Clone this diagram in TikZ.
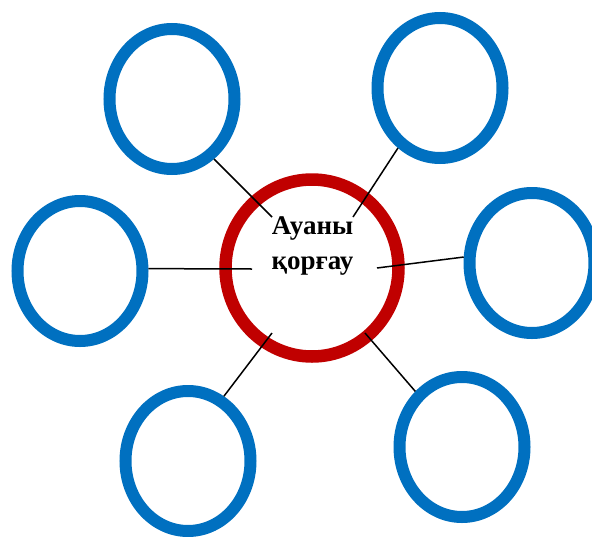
\documentclass[tikz,border=0pt]{standalone}
\usepackage{fontspec}
\setmainfont{Liberation Serif}
\definecolor{ringBlue}{RGB}{0, 112, 192}
\definecolor{ringRed}{RGB}{192, 0, 0}
\usetikzlibrary{shapes, positioning}

\begin{document}
\begin{tikzpicture}[
                x=1pt, y=-1pt,
                bubble/.style={ellipse, draw=ringBlue, line width=12pt, minimum width=125pt, minimum height=140pt, inner sep=0pt},
                hub/.style={ellipse, draw=ringRed, line width=12.5pt, minimum width=173pt, minimum height=177pt, inner sep=0pt},
                link/.style={draw=black, line width=1.5pt},
                title/.style={font=\bfseries\fontsize{27}{34.5}\selectfont, align=center, inner sep=0pt}
            ]
                \useasboundingbox (0,0) rectangle (592,536);
                % outer bubbles
                \node[bubble] (nw) at (172,99) {};
                \node[bubble] (ne) at (440,88) {};
                \node[bubble] (w)  at (80,271) {};
                \node[bubble] (e)  at (532,263) {};
                \node[bubble] (sw) at (188,461) {};
                \node[bubble] (se) at (462,447) {};
                % centre
                \node[hub] (air) at (312,268) {};
                \node[title] (label) at (312.5,246) {Ауаны\\қорғау};
                % inner ends of the links
                \coordinate (inNW) at (272,217);
                \coordinate (inNE) at (353,217);
                \coordinate (inW)  at (252,269);
                \coordinate (inE)  at (377,268);
                \coordinate (inSW) at (272,333);
                \coordinate (inSE) at (365,333);
                \draw[link] (nw.-55)  -- (inNW);
                \draw[link] (ne.-125) -- (inNE);
                \draw[link] (w.2)     -- (inW);
                \draw[link] (e.175)   -- (inE);
                \draw[link] (sw.61)   -- (inSW);
                \draw[link] (se.130)  -- (inSE);
            \end{tikzpicture}
\end{document}
